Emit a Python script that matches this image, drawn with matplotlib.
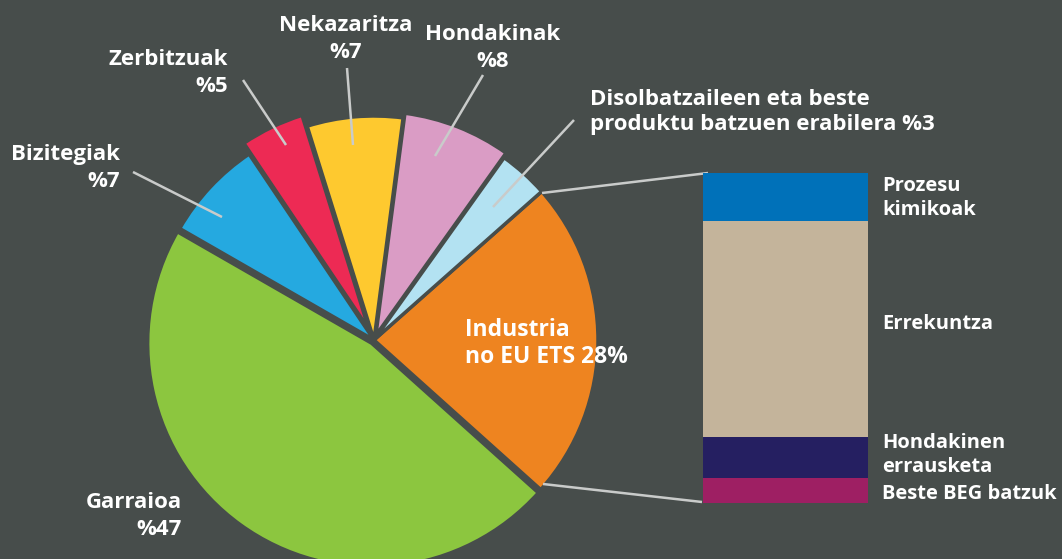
import matplotlib
matplotlib.use('Agg')
import matplotlib.pyplot as plt

# --- datuak (irudian marraztutako zatiak) ---
sektoreak = ['Industria', 'Disolbatzaileak', 'Hondakinak', 'Nekazaritza',
             'Zerbitzuak', 'Bizitegiak', 'Garraioa']
balioak = [23.2, 3.6, 7.8, 6.9, 4.6, 7.3, 46.7]
koloreak = ['#ee8420', '#b3e2f2', '#da9cc5', '#fec92f', '#ed2a54', '#25a9e0', '#8cc63f']

industria_zatiak = ['Beste BEG batzuk', 'Hondakinen\nerrausketa', 'Errekuntza', 'Prozesu\nkimikoak']
industria_balioak = [7.6, 12.4, 65.5, 14.5]
industria_koloreak = ['#9e1f63', '#251f61', '#c4b49b', '#0071b9']

BG = '#474d4b'
LINE = '#c9cbca'

fig = plt.figure(figsize=(10.62, 5.59), dpi=100, facecolor=BG)
ax = fig.add_axes([0, 0, 1, 1])
ax.set_facecolor(BG)

# pie in pixel coordinates, y axis pointing down (explode is in data units here)
ax.pie(balioak, colors=koloreak, center=(374, 340), radius=224,
       startangle=41.9, counterclock=False,
       explode=[0, 0, 5, 0, 12, 0, 4],
       wedgeprops=dict(edgecolor=BG, linewidth=2.5))
ax.set_xlim(0, 1062)
ax.set_ylim(559, 0)
ax.set_aspect('equal')
ax.axis('off')

# leader lines
lerroak = [
    ((133, 172), (222, 217)),
    ((243, 80), (286, 145)),
    ((347, 68), (353, 145)),
    ((483, 75), (435, 156)),
    ((574, 120), (493, 207)),
    ((542, 193), (708, 173)),
    ((543, 484), (702, 502)),
]
for (x0, y0), (x1, y1) in lerroak:
    ax.plot([x0, x1], [y0, y1], color=LINE, lw=1.8, solid_capstyle='butt')

# multi-line text: baseline = azken lerroaren oinarria
fp = dict(family='Open Sans', weight='bold', color='white', fontsize=16)
ax.text(346, 58, 'Nekazaritza\n%7', ha='center', va='baseline', linespacing=1.36, **fp)
ax.text(493, 67, 'Hondakinak\n%8', ha='center', va='baseline', linespacing=1.36, **fp)
ax.text(228, 92, 'Zerbitzuak\n%5', ha='right', va='baseline', linespacing=1.36, **fp)
ax.text(120, 187, 'Bizitegiak\n%7', ha='right', va='baseline', linespacing=1.36, **fp)
ax.text(182, 535, 'Garraioa\n%47', ha='right', va='baseline', linespacing=1.36, **fp)
ax.text(590, 130, 'Disolbatzaileen eta beste\nproduktu batzuen erabilera %3',
        ha='left', va='baseline', linespacing=1.26, **fp)
ax.text(465, 363, 'Industria\nno EU ETS 28%', ha='left', va='baseline', linespacing=1.18,
        family='Open Sans', weight='bold', color='white', fontsize=16.5)

# industria barra
bx = fig.add_axes([703 / 1062, (559 - 503) / 559, 165 / 1062, 330 / 559])
bx.set_facecolor(BG)
behea = 0
for izena, b, k in zip(industria_zatiak, industria_balioak, industria_koloreak):
    bx.bar(0, b, bottom=behea, width=1, color=k, linewidth=0)
    behea += b
bx.set_xlim(-0.5, 0.5)
bx.set_ylim(0, sum(industria_balioak))
bx.axis('off')

fb = dict(family='Open Sans', weight='bold', color='white', fontsize=14.5)
ax.text(882, 215, 'Prozesu\nkimikoak', ha='left', va='baseline', linespacing=1.24, **fb)
ax.text(882, 329, 'Errekuntza', ha='left', va='baseline', **fb)
ax.text(882, 472, 'Hondakinen\nerrausketa', ha='left', va='baseline', linespacing=1.24, **fb)
ax.text(882, 499, 'Beste BEG batzuk', ha='left', va='baseline', **fb)

fig.savefig('out.png', dpi=100, facecolor=BG)
